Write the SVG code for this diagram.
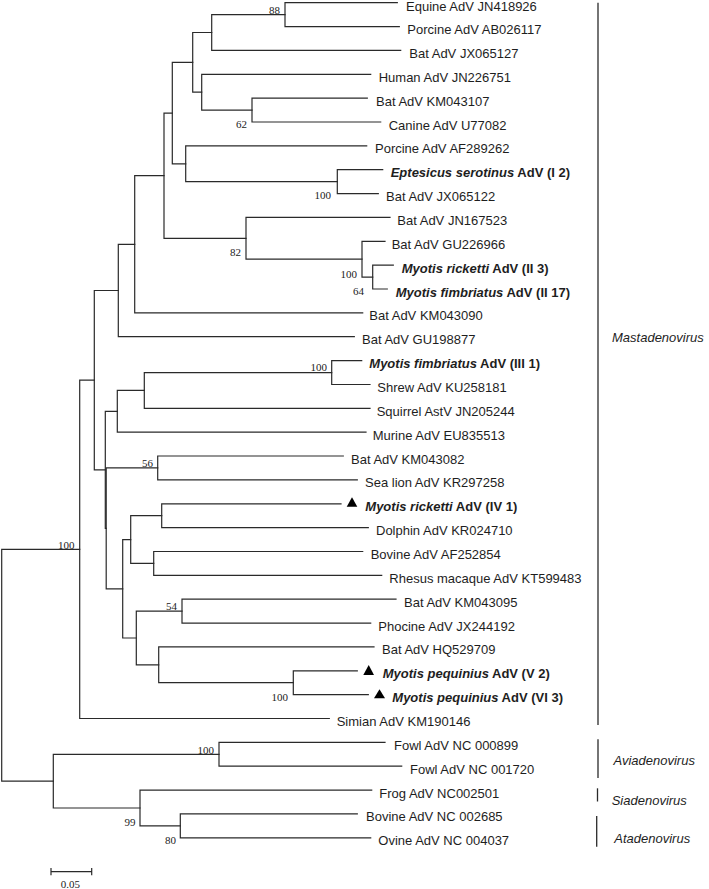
<svg xmlns="http://www.w3.org/2000/svg" width="709" height="889" viewBox="0 0 709 889">
<style>
.br{fill:none;stroke:#2a2a2a;stroke-width:1.2;stroke-linecap:square}
.bar{stroke:#2a2a2a;stroke-width:1.3}
.lf{font-family:"Liberation Sans",Arial,sans-serif;font-size:13px;fill:#1e1e1e}
.bd{font-weight:bold}
.it{font-style:italic}
.bs{font-family:"Liberation Serif","Times New Roman",serif;font-size:11px;fill:#222;text-anchor:end}
.cl{font-family:"Liberation Sans",Arial,sans-serif;font-size:13px;font-style:italic;fill:#1e1e1e}
.tri{fill:#000}
</style>
<rect width="709" height="889" fill="#fff"/>
<g id="connectors">
<path class="br" d="M397.3,2.7 H285 V26.6 H399.3"/>
<path class="br" d="M285,14.65 H211.7 V50.4 H400.7"/>
<path class="br" d="M367.3,98.1 H252 V122 H380.7"/>
<path class="br" d="M370.7,74.3 H201.7 V110.05 H252"/>
<path class="br" d="M211.7,32.5 H192.7 V92.2 H201.7"/>
<path class="br" d="M382.7,169.7 H337.3 V193.6 H378.3"/>
<path class="br" d="M366.7,145.9 H185.7 V181.65 H337.3"/>
<path class="br" d="M192.7,62.35 H172.3 V163.8 H185.7"/>
<path class="br" d="M393.3,265.2 H372.7 V289 H387.3"/>
<path class="br" d="M385,241.3 H362 V277.1 H372.7"/>
<path class="br" d="M390,217.4 H246 V259.2 H362"/>
<path class="br" d="M172.3,113.1 H164 V238.3 H246"/>
<path class="br" d="M164,175.7 H134.7 V312.9 H362.7"/>
<path class="br" d="M134.7,244.3 H118.3 V336.7 H354.3"/>
<path class="br" d="M361.7,360.6 H331.7 V384.5 H370"/>
<path class="br" d="M331.7,372.55 H144.3 V408.3 H370"/>
<path class="br" d="M144.3,390.4 H117.3 V432.2 H366"/>
<path class="br" d="M343.3,456 H157.7 V479.9 H357.3"/>
<path class="br" d="M341,503.8 H161.7 V527.6 H368.3"/>
<path class="br" d="M362.7,551.5 H153.7 V575.3 H381.7"/>
<path class="br" d="M161.7,515.7 H130.7 V563.4 H153.7"/>
<path class="br" d="M396,599.2 H182 V623.1 H370.7"/>
<path class="br" d="M357.3,670.8 H293.3 V694.6 H368.3"/>
<path class="br" d="M374,646.9 H158.7 V682.7 H293.3"/>
<path class="br" d="M182,611.15 H136.3 V664.8 H158.7"/>
<path class="br" d="M130.7,539.55 H122.7 V637.98 H136.3"/>
<path class="br" d="M157.7,467.95 H106.2 V588.8 H122.7"/>
<path class="br" d="M117.3,411.3 H105.3 V528.4 H106.2"/>
<path class="br" d="M118.3,290.5 H94.3 V469.85 H105.3"/>
<path class="br" d="M94.3,380.2 H79.7 V718.5 H329.3"/>
<path class="br" d="M385,742.4 H219 V766.2 H401.7"/>
<path class="br" d="M357.3,813.9 H180.3 V837.8 H370.7"/>
<path class="br" d="M371.7,790.1 H140 V825.85 H180.3"/>
<path class="br" d="M219,754.3 H53.3 V807.98 H140"/>
<path class="br" d="M79.7,549.35 H1.7 V781.1 H53.3"/>
</g>
<g id="bootstrap">
<text class="bs" x="280" y="13.5">88</text>
<text class="bs" x="247" y="127.5">62</text>
<text class="bs" x="331" y="199">100</text>
<text class="bs" x="241" y="255.8">82</text>
<text class="bs" x="357" y="277.8">100</text>
<text class="bs" x="364" y="295.2">64</text>
<text class="bs" x="327" y="371">100</text>
<text class="bs" x="153" y="466.5">56</text>
<text class="bs" x="74.5" y="548.5">100</text>
<text class="bs" x="177" y="610">54</text>
<text class="bs" x="288" y="700.8">100</text>
<text class="bs" x="214" y="753.5">100</text>
<text class="bs" x="135.5" y="825.8">99</text>
<text class="bs" x="176" y="843.5">80</text>
</g>
<g id="leaf0"><text class="lf" x="406" y="10.8">Equine AdV JN418926</text></g>
<g id="leaf1"><text class="lf" x="407.3" y="34.1">Porcine AdV AB026117</text></g>
<g id="leaf2"><text class="lf" x="409.3" y="57.9">Bat AdV JX065127</text></g>
<g id="leaf3"><text class="lf" x="378.7" y="81.8">Human AdV JN226751</text></g>
<g id="leaf4"><text class="lf" x="376" y="105.6">Bat AdV KM043107</text></g>
<g id="leaf5"><text class="lf" x="388.7" y="129.5">Canine AdV U77082</text></g>
<g id="leaf6"><text class="lf" x="375" y="153.4">Porcine AdV AF289262</text></g>
<g id="leaf7"><text class="lf bd" x="390.7" y="177.2"><tspan class="it">Eptesicus serotinus</tspan> AdV (I 2)</text></g>
<g id="leaf8"><text class="lf" x="386" y="201.1">Bat AdV JX065122</text></g>
<g id="leaf9"><text class="lf" x="397.3" y="224.9">Bat AdV JN167523</text></g>
<g id="leaf10"><text class="lf" x="391.7" y="248.8">Bat AdV GU226966</text></g>
<g id="leaf11"><text class="lf bd" x="401.7" y="272.7"><tspan class="it">Myotis ricketti</tspan> AdV (II 3)</text></g>
<g id="leaf12"><text class="lf bd" x="395.7" y="296.5"><tspan class="it">Myotis fimbriatus</tspan> AdV (II 17)</text></g>
<g id="leaf13"><text class="lf" x="369.3" y="320.4">Bat AdV KM043090</text></g>
<g id="leaf14"><text class="lf" x="362" y="344.2">Bat AdV GU198877</text></g>
<g id="leaf15"><text class="lf bd" x="369.3" y="368.1"><tspan class="it">Myotis fimbriatus</tspan> AdV (III 1)</text></g>
<g id="leaf16"><text class="lf" x="377.3" y="392">Shrew AdV KU258181</text></g>
<g id="leaf17"><text class="lf" x="376.7" y="415.8">Squirrel AstV JN205244</text></g>
<g id="leaf18"><text class="lf" x="372.7" y="439.7">Murine AdV EU835513</text></g>
<g id="leaf19"><text class="lf" x="351" y="463.5">Bat AdV KM043082</text></g>
<g id="leaf20"><text class="lf" x="365" y="487.4">Sea lion AdV KR297258</text></g>
<g id="leaf21"><polygon class="tri" points="346.7,506.7 357.3,506.7 352,497.3"/><text class="lf bd" x="365.3" y="511.3"><tspan class="it">Myotis ricketti</tspan> AdV (IV 1)</text></g>
<g id="leaf22"><text class="lf" x="376" y="535.1">Dolphin AdV KR024710</text></g>
<g id="leaf23"><text class="lf" x="370.7" y="559">Bovine AdV AF252854</text></g>
<g id="leaf24"><text class="lf" x="389.3" y="582.8">Rhesus macaque AdV KT599483</text></g>
<g id="leaf25"><text class="lf" x="404" y="606.7">Bat AdV KM043095</text></g>
<g id="leaf26"><text class="lf" x="378.3" y="630.6">Phocine AdV JX244192</text></g>
<g id="leaf27"><text class="lf" x="382" y="654.4">Bat AdV HQ529709</text></g>
<g id="leaf28"><polygon class="tri" points="363.3,675 374,675 368.7,665"/><text class="lf bd" x="382.7" y="678.3"><tspan class="it">Myotis pequinius</tspan> AdV (V 2)</text></g>
<g id="leaf29"><polygon class="tri" points="374,698.3 385,698.3 379.5,689.3"/><text class="lf bd" x="392.3" y="702.1"><tspan class="it">Myotis pequinius</tspan> AdV (VI 3)</text></g>
<g id="leaf30"><text class="lf" x="336.7" y="726">Simian AdV KM190146</text></g>
<g id="leaf31"><text class="lf" x="394" y="749.9">Fowl AdV NC 000899</text></g>
<g id="leaf32"><text class="lf" x="410" y="773.7">Fowl AdV NC 001720</text></g>
<g id="leaf33"><text class="lf" x="379.3" y="797.6">Frog AdV NC002501</text></g>
<g id="leaf34"><text class="lf" x="366" y="821.4">Bovine AdV NC 002685</text></g>
<g id="leaf35"><text class="lf" x="378.3" y="845.3">Ovine AdV NC 004037</text></g>
<g id="clade-mastadenovirus"><line class="bar" x1="598" y1="2.7" x2="598" y2="725"/><text class="cl" x="612" y="341.5">Mastadenovirus</text></g>
<g id="clade-aviadenovirus"><line class="bar" x1="598" y1="739.3" x2="598" y2="778"/><text class="cl" x="613.5" y="765">Aviadenovirus</text></g>
<g id="clade-siadenovirus"><line class="bar" x1="597.5" y1="788.3" x2="597.5" y2="801.5"/><text class="cl" x="611.7" y="805">Siadenovirus</text></g>
<g id="clade-atadenovirus"><line class="bar" x1="596.7" y1="816" x2="596.7" y2="846.7"/><text class="cl" x="614.3" y="843.3">Atadenovirus</text></g>
<g id="scale-bar">
<path class="br" d="M51,871.7 H91.7 M51,868.7 V874.7 M91.7,868.7 V874.7"/>
<text class="bs" x="70.3" y="888" style="text-anchor:middle">0.05</text>
</g>
</svg>
